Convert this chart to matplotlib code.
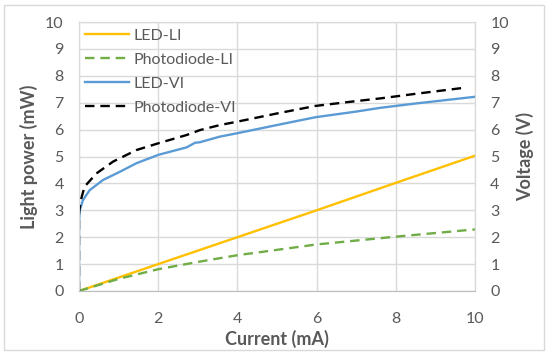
import matplotlib
matplotlib.use("Agg")
import matplotlib.pyplot as plt
from matplotlib.patches import Rectangle

plt.rcParams['font.family'] = ['Lato', 'DejaVu Sans']

# LI curves (light power, mW) vs current (mA)
led_li_i = [0, 2, 4, 6, 8, 10]
led_li_p = [0, 1.0, 2.0, 3.0, 4.02, 5.03]
pd_li_i = [0, 1, 2, 3, 4, 6, 8, 10]
pd_li_p = [0, 0.45, 0.81, 1.08, 1.33, 1.73, 2.02, 2.29]

# VI curves (voltage, V) vs current (mA)
led_vi_i = [0, 0, 0.02, 0.1, 0.27, 0.61, 1.03, 1.45, 2.0, 2.72, 2.93, 3.05,
            3.56, 3.98, 5.0, 5.97, 7.0, 7.61, 8.5, 10]
led_vi_v = [0, 2.6, 3.0, 3.38, 3.75, 4.13, 4.43, 4.75, 5.06, 5.34, 5.51, 5.53,
            5.74, 5.86, 6.17, 6.46, 6.67, 6.81, 6.97, 7.22]
pd_vi_i = [0, 0, 0.05, 0.14, 0.44, 0.86, 1.45, 2.0, 2.72, 3.05, 3.56, 3.98,
           5.0, 5.97, 7.0, 7.61, 8.5, 9.7]
pd_vi_v = [0, 2.9, 3.4, 3.88, 4.37, 4.81, 5.24, 5.49, 5.8, 5.98, 6.17, 6.29,
           6.6, 6.88, 7.06, 7.16, 7.33, 7.55]

txt = '#595959'
grid_c = '#d9d9d9'

fig = plt.figure(figsize=(5.5, 3.58), dpi=100)
fig.patches.append(Rectangle((4/550, 1-350/358), 540/550, 345/358, transform=fig.transFigure,
                             fill=False, edgecolor='#d9d9d9', lw=1))
ax = fig.add_axes([79/550, 1-291/358, 396/550, 269/358])
ax2 = ax.twinx()

l1, = ax.plot(led_li_i, led_li_p, color='#FFC000', lw=1.7, label='LED-LI')
l2, = ax.plot(pd_li_i, pd_li_p, color='#70AD47', lw=1.7, ls=(0, (4, 2.5)), label='Photodiode-LI')
l3, = ax2.plot(led_vi_i, led_vi_v, color='#5B9BD5', lw=1.7, label='LED-VI')
l4, = ax2.plot(pd_vi_i, pd_vi_v, color='black', lw=1.7, ls=(0, (4, 2.5)), label='Photodiode-VI')

for a in (ax, ax2):
    a.set_xlim(0, 10)
    a.set_ylim(0, 10)
    a.set_yticks(range(0, 11))
    for s in a.spines.values():
        s.set_color(grid_c)
    a.spines['bottom'].set_color('#bfbfbf')
ax.set_xticks(range(0, 11, 2))
ax.grid(True, color=grid_c, lw=1)
ax.set_axisbelow(True)
ax.tick_params(axis='both', length=0, colors=txt, labelsize=11.5)
ax.tick_params(axis='y', pad=11)
ax.tick_params(axis='x', pad=15)
ax2.tick_params(axis='y', length=0, colors=txt, labelsize=11.5, pad=11)

ax.set_xlabel('Current (mA)', fontsize=13, fontweight='bold', color=txt, labelpad=3)
ax.set_ylabel('Light power (mW)', fontsize=13, fontweight='bold', color=txt, labelpad=5)
ax2.set_ylabel('Voltage (V)', fontsize=13, fontweight='bold', color=txt, labelpad=5)

leg = ax2.legend(handles=[l1, l2, l3, l4], loc='upper left', frameon=False, fontsize=11.5,
                 handlelength=2.7, handletextpad=0.3, labelspacing=0.62,
                 borderaxespad=0.0, bbox_to_anchor=(0.0, 1.0))
for t in leg.get_texts():
    t.set_color(txt)

fig.savefig('out.png', dpi=100)
